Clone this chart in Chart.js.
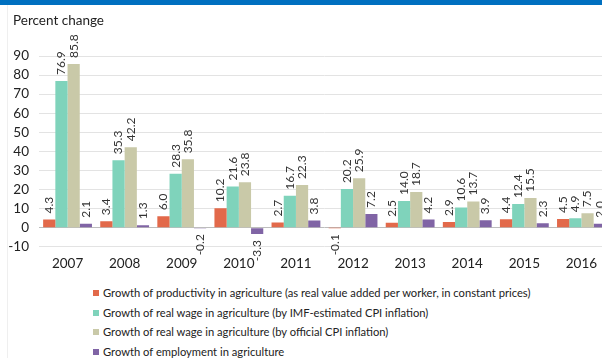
<!DOCTYPE html>
<html>
<head>
<meta charset="utf-8">
<script src="https://cdn.jsdelivr.net/npm/chart.js@4.4.1/dist/chart.umd.min.js"></script>
<style>
  html, body { margin: 0; padding: 0; background: #fff; overflow: hidden; }
  #page { position: relative; width: 602px; height: 358px; overflow: hidden; font-family: Lato, "Liberation Sans", sans-serif; }
  #topbar { position: absolute; left: 0; top: 0; width: 602px; height: 5px; background: #0070c0; }
  #frame { position: absolute; left: 7px; top: 5px; width: 1px; height: 353px; background: #efefef; }
  #ytitle { position: absolute; left: 13px; top: 12px; font-size: 13.5px; color: #222; white-space: nowrap; }
  #wrap { position: absolute; left: 0; top: 0; width: 612px; height: 280px; }
  #legend { position: absolute; left: 93px; top: 283px; font-size: 11.2px; color: #222; }
  .item { height: 19.7px; line-height: 19.7px; white-space: nowrap; }
  .sw { display: inline-block; width: 6px; height: 6px; margin-right: 4px; vertical-align: 1px; }
</style>
</head>
<body>
<div id="page">
  <div id="topbar"></div>
  <div id="frame"></div>
  <div id="wrap"><canvas id="c" width="612" height="280"></canvas></div>
  <div id="ytitle">Percent change</div>
  <div id="legend"></div>
</div>
<script>
// Years on the category axis
const years = ['2007', '2008', '2009', '2010', '2011', '2012', '2013', '2014', '2015', '2016'];

// Annual growth rates, percent
const productivity = [4.3, 3.4, 6.0, 10.2, 2.7, -0.1, 2.5, 2.9, 4.4, 4.5];
const wageImfCpi = [76.9, 35.3, 28.3, 21.6, 16.7, 20.2, 14.0, 10.6, 12.4, 4.9];
const wageOfficialCpi = [85.8, 42.2, 35.8, 23.8, 22.3, 25.9, 18.7, 13.7, 15.5, 7.5];
const employment = [2.1, 1.3, -0.2, -3.3, 3.8, 7.2, 4.2, 3.9, 2.3, 2.0];

// Series names
const seriesNames = [
  'Growth of productivity in agriculture (as real value added per worker, in constant prices)',
  'Growth of real wage in agriculture (by IMF-estimated CPI inflation)',
  'Growth of real wage in agriculture (by official CPI inflation)',
  'Growth of employment in agriculture'
];

// Value-axis ticks
const yMin = -10, yMax = 90, yStep = 10;

const colors = ['#e2694a', '#7fd3bb', '#c9c9a8', '#8064a5'];
const seriesValues = [productivity, wageImfCpi, wageOfficialCpi, employment];

const FONT = 'Lato, "Liberation Sans", sans-serif';

// Rotated value labels above (or below) each bar
const barLabels = {
  id: 'barLabels',
  afterDatasetsDraw(chart) {
    const ctx = chart.ctx;
    ctx.save();
    ctx.font = '12px ' + FONT;
    ctx.fillStyle = '#333';
    ctx.textBaseline = 'middle';
    chart.data.datasets.forEach((ds, di) => {
      const meta = chart.getDatasetMeta(di);
      meta.data.forEach((bar, i) => {
        const v = ds.data[i];
        const txt = v.toFixed(1);
        ctx.save();
        if (v >= 0) {
          ctx.translate(bar.x, Math.min(bar.y, bar.base) - 6);
          ctx.rotate(-Math.PI / 2);
          ctx.textAlign = 'left';
        } else {
          ctx.translate(bar.x, Math.max(bar.y, bar.base) + 6);
          ctx.rotate(-Math.PI / 2);
          ctx.textAlign = 'right';
        }
        ctx.fillText(txt, 0, 0);
        ctx.restore();
      });
    });
    ctx.restore();
  }
};

new Chart(document.getElementById('c'), {
  type: 'bar',
  data: {
    labels: years,
    datasets: seriesValues.map((vals, k) => ({
      label: seriesNames[k],
      data: vals,
      backgroundColor: colors[k],
      borderWidth: 0,
      barPercentage: 1.0,
      categoryPercentage: 0.855
    }))
  },
  options: {
    responsive: false,
    animation: false,
    devicePixelRatio: 1,
    layout: { padding: { top: 56, right: 2, left: 0, bottom: 0 } },
    plugins: { legend: { display: false }, title: { display: false }, tooltip: { enabled: false } },
    scales: {
      x: {
        grid: { display: false, drawTicks: false },
        border: { display: false },
        ticks: { color: '#222', font: { family: FONT, size: 13.5 }, padding: 9, maxRotation: 0, autoSkip: false },
        afterFit(scale) { scale.height = 33.3; }
      },
      y: {
        min: yMin, max: yMax,
        ticks: { stepSize: yStep, color: '#222', font: { family: FONT, size: 13.5 }, padding: 10, autoSkip: false },
        grid: {
          drawTicks: false,
          color: (c) => (c.tick && c.tick.value === 0 ? '#bdbdbd' : '#e3e3e3'),
          lineWidth: 1
        },
        border: { display: false },
        afterFit(scale) { scale.width = 39; }
      }
    }
  },
  plugins: [barLabels]
});

// Legend list
const legend = document.getElementById('legend');
seriesNames.forEach((name, k) => {
  const row = document.createElement('div');
  row.className = 'item';
  const sw = document.createElement('span');
  sw.className = 'sw';
  sw.style.background = colors[k];
  row.appendChild(sw);
  row.appendChild(document.createTextNode(name));
  legend.appendChild(row);
});
</script>
</body>
</html>
